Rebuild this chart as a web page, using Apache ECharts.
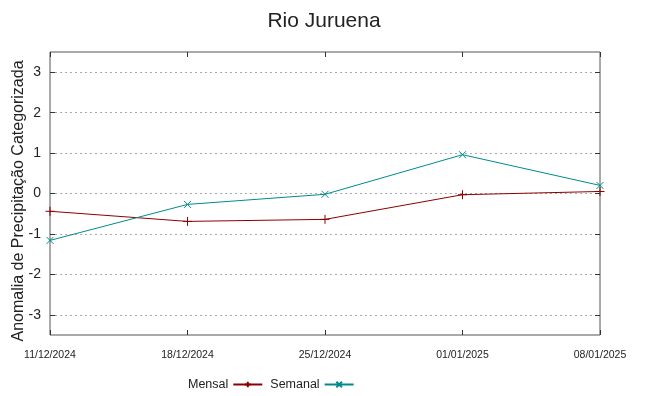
<!DOCTYPE html>
<html><head><meta charset="utf-8">
<script src="https://cdn.jsdelivr.net/npm/echarts@6/dist/echarts.min.js"></script>
<style>html,body{margin:0;padding:0;background:#fff}#c{width:648px;height:396px}</style>
</head><body><div id="c"></div>
<script>
const categories = ['11/12/2024','18/12/2024','25/12/2024','01/01/2025','08/01/2025'];
const mensal = [-0.44, -0.69, -0.64, -0.03, 0.05];
const semanal = [-1.16, -0.27, -0.02, 0.96, 0.20];
const yTicks = [-3,-2,-1,0,1,2,3];

const SANS = '"Liberation Sans", Arial, sans-serif';
const RED = '#8b0000', TEAL = '#008b8b';
const chart = echarts.init(document.getElementById('c'), null, {renderer:'canvas'});
const tickStyle = {show:true, inside:true, length:5, lineStyle:{color:'#333', width:1}};
chart.setOption({
  animation:false,
  title:{text:'Rio Juruena', left:'center', top:6, textStyle:{fontFamily:SANS, fontSize:21, fontWeight:'normal', color:'#222'}},
  legend:{left:183, top:373, align:'right', itemWidth:29, itemHeight:7, itemGap:7,
    textStyle:{fontFamily:SANS, fontSize:12.5, color:'#222'},
    data:['Mensal','Semanal']},
  grid:{left:50, right:48, top:52, bottom:61, outerBoundsMode:'none', containLabel:false,
    show:true, borderColor:'#555', borderWidth:1, backgroundColor:'transparent'},
  xAxis:[{type:'category', data:categories, boundaryGap:false,
    axisLine:{show:false, onZero:false}, axisTick:Object.assign({}, tickStyle, {alignWithLabel:true}),
    axisLabel:{interval:0, fontFamily:SANS, fontSize:10.5, color:'#222', margin:15},
    splitLine:{show:false}},
    {type:'category', data:categories, boundaryGap:false, position:'top',
    axisLine:{show:false, onZero:false}, axisTick:tickStyle, axisLabel:{show:false}, splitLine:{show:false}}],
  yAxis:[{type:'value', min:-3.5, max:3.5,
    name:'Anomalia de Precipitação Categorizada', nameLocation:'middle', nameGap:23, nameRotate:90,
    nameMoveOverlap:false,
    nameTextStyle:{fontFamily:SANS, fontSize:16, color:'#222', padding:[0,15,0,0]},
    axisLine:{show:false},
    axisTick:Object.assign({customValues:yTicks}, tickStyle),
    axisLabel:{customValues:yTicks, fontFamily:SANS, fontSize:14, color:'#222', margin:9},
    splitLine:{show:true, lineStyle:{color:'#aaa', type:[2,3], width:1}}},
    {type:'value', min:-3.5, max:3.5, position:'right',
    axisLine:{show:false},
    axisTick:Object.assign({customValues:yTicks}, tickStyle),
    axisLabel:{show:false}, splitLine:{show:false}}],
  series:[
    {name:'Mensal', type:'line', data:mensal, symbol:'path://M0,-5L0,5M-5,0L5,0', symbolSize:9,
      showSymbol:true, lineStyle:{color:RED, width:1}, itemStyle:{color:RED, borderColor:RED, borderWidth:1}},
    {name:'Semanal', type:'line', data:semanal, symbol:'path://M-5,-5L5,5M-5,5L5,-5', symbolSize:7,
      showSymbol:true, lineStyle:{color:TEAL, width:1}, itemStyle:{color:TEAL, borderColor:TEAL, borderWidth:1}}
  ]
});
</script></body></html>
